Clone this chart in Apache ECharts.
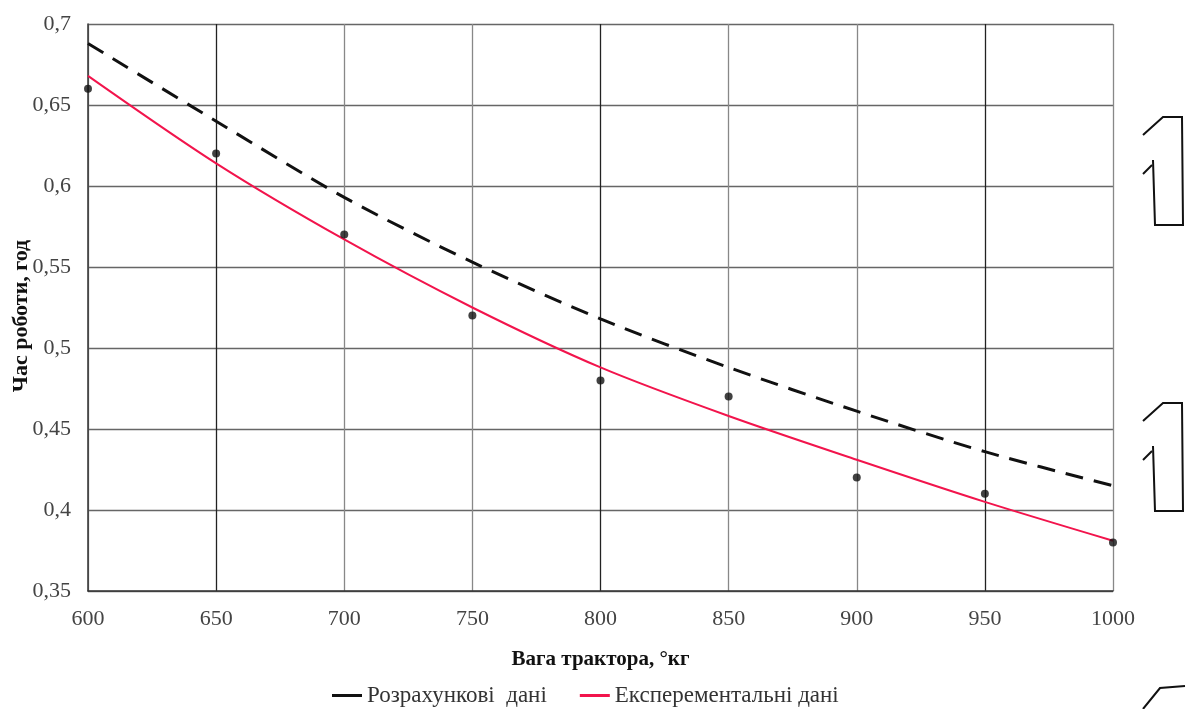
<!DOCTYPE html>
<html>
<head>
<meta charset="utf-8">
<script src="https://cdn.jsdelivr.net/npm/echarts@6/dist/echarts.min.js"></script>
<style>
  html, body { margin: 0; padding: 0; background: #fff; }
  #chart { width: 1195px; height: 709px; }
</style>
</head>
<body>
<div id="chart"></div>
<script>
// вага трактора, кг
const weights = [600, 650, 700, 750, 800, 850, 900, 950, 1000];
// розрахункова крива (пунктир)
const calcValues = [0.688, 0.640, 0.593, 0.553, 0.518, 0.488, 0.461, 0.436, 0.415];
// експериментальна крива (червона)
const expValues = [0.668, 0.614, 0.567, 0.525, 0.488, 0.458, 0.431, 0.405, 0.381];
// виміряні точки
const measured = [0.66, 0.62, 0.57, 0.52, 0.48, 0.47, 0.42, 0.41, 0.38];

const seriesNames = ['Розрахункові  дані', 'Експерементальні дані'];
const yTitle = 'Час роботи, год';
const font = '"Liberation Serif", "DejaVu Serif", serif';

const chart = echarts.init(document.getElementById('chart'));

const zip = (xs, ys) => xs.map((x, i) => [x, ys[i]]);

// рамочки з "1" справа (є на скані)
function bracket(dy) {
  return [
    { type: 'polyline', shape: { points: [[1143, 135 + dy], [1163, 117 + dy], [1182, 117 + dy], [1183, 225 + dy], [1155, 225 + dy], [1153, 160 + dy]] },
      style: { stroke: '#111', lineWidth: 2, fill: null } },
    { type: 'line', shape: { x1: 1143, y1: 174 + dy, x2: 1152, y2: 165 + dy },
      style: { stroke: '#111', lineWidth: 2 } }
  ];
}

const option = {
  backgroundColor: '#fff',
  animation: false,
  textStyle: { fontFamily: font },
  grid: { left: 88, right: 82, top: 24, bottom: 118, outerBoundsMode: 'none' },
  legend: {
    top: 679,
    left: 327,
    icon: 'rect',
    itemWidth: 30,
    itemHeight: 3,
    itemGap: 33,
    data: seriesNames,
    textStyle: { fontFamily: font, fontSize: 23, color: '#333' }
  },
  xAxis: {
    type: 'value',
    min: 600,
    max: 1000,
    interval: 50,
    name: 'Вага трактора, °кг',
    nameLocation: 'middle',
    nameGap: 58,
    nameMoveOverlap: false,
    nameTextStyle: { fontFamily: font, fontSize: 21, fontWeight: 'bold', color: '#111' },
    axisLine: { lineStyle: { color: '#333', width: 1.5 } },
    axisTick: { show: false },
    axisLabel: { fontFamily: font, fontSize: 22, color: '#444', margin: 17, formatter: v => String(v) },
    splitLine: {
      show: true,
      showMinLine: true,
      showMaxLine: true,
      lineStyle: { color: ['#888', '#222', '#888'], width: 1.3 }
    }
  },
  yAxis: {
    type: 'value',
    min: 0.35,
    max: 0.7,
    interval: 0.05,
    axisLine: { show: true, lineStyle: { color: '#333', width: 1.5 } },
    axisTick: { show: false },
    axisLabel: {
      fontFamily: font, fontSize: 22, color: '#444', margin: 17,
      formatter: v => String(+v.toFixed(2)).replace('.', ',')
    },
    splitLine: { show: true, showMaxLine: true, lineStyle: { color: '#666', width: 1.3 } }
  },
  series: [
    {
      name: seriesNames[0],
      type: 'line',
      data: zip(weights, calcValues),
      smooth: 0.3,
      showSymbol: false,
      itemStyle: { color: '#111' },
      lineStyle: { color: '#111', width: 3, type: [18, 11] },
      z: 3
    },
    {
      name: seriesNames[1],
      type: 'line',
      data: zip(weights, expValues),
      smooth: 0.3,
      showSymbol: false,
      itemStyle: { color: '#f2144c' },
      lineStyle: { color: '#f2144c', width: 2 },
      z: 3
    },
    {
      name: 'точки',
      type: 'scatter',
      data: zip(weights, measured),
      symbol: 'circle',
      symbolSize: 8,
      itemStyle: { color: '#111' },
      z: 4
    }
  ],
  graphic: [].concat(bracket(0), bracket(286), [
    { type: 'polyline', shape: { points: [[1143, 709], [1160, 688], [1185, 686]] },
      style: { stroke: '#111', lineWidth: 2, fill: null } },
    // назва осі Y (вертикально)
    { type: 'text', x: 21, y: 316, rotation: Math.PI / 2,
      style: { text: yTitle, font: 'bold 22px ' + font, fill: '#111', align: 'center', verticalAlign: 'middle' } }
  ])
};

chart.setOption(option);
</script>
</body>
</html>
